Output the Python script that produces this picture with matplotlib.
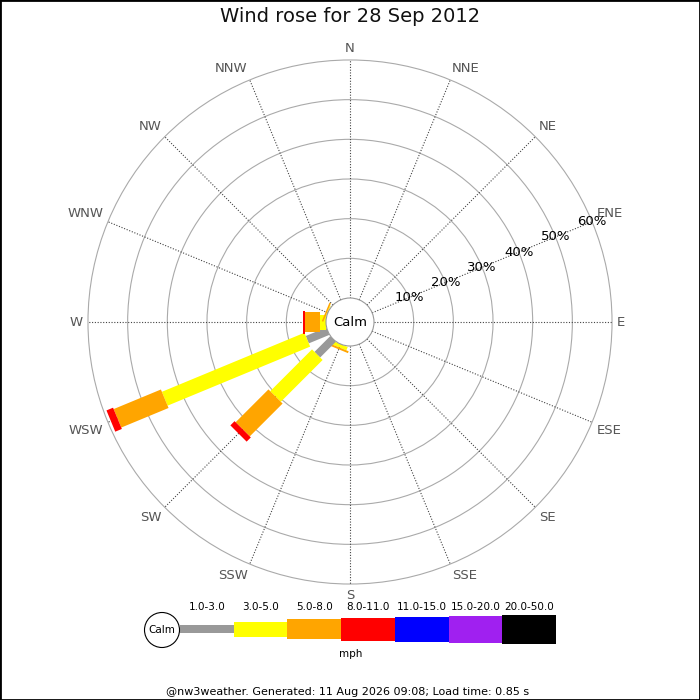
import numpy as np
import matplotlib
matplotlib.use('Agg')
import matplotlib.pyplot as plt
from matplotlib.patches import Polygon, Circle, Rectangle

# compass points, clockwise from north
directions = ['N', 'NNE', 'NE', 'ENE', 'E', 'ESE', 'SE', 'SSE',
              'S', 'SSW', 'SW', 'WSW', 'W', 'WNW', 'NW', 'NNW']
speed_bins = ['1.0-3.0', '3.0-5.0', '5.0-8.0', '8.0-11.0',
              '11.0-15.0', '15.0-20.0', '20.0-50.0']
bin_colors = ['#999999', '#ffff00', '#ffa500', '#ff0000',
              '#0000ff', '#a020f0', '#000000']
pct_ticks = [10, 20, 30, 40, 50, 60]

# percent of the day per direction, one value per speed bin
freq = {
    'SSW': [0.0, 0.9, 0.5, 0.0, 0.0, 0.0, 0.0],
    'SW':  [5.6, 14.9, 11.7, 1.5, 0.0, 0.0, 0.0],
    'WSW': [5.6, 38.9, 12.9, 1.8, 0.0, 0.0, 0.0],
    'W':   [0.0, 1.5, 3.9, 0.5, 0.0, 0.0, 0.0],
    'WNW': [0.0, 0.2, 0.4, 0.0, 0.0, 0.0, 0.0],
}

# layout (pixel frame, y down)
cx, cy = 350, 322
calm_r = 24
ring_step = 39.67  # px per 10 %
bar_w = [8, 15, 20, 23, 25, 27, 29]
outer_r = calm_r + ring_step * len(pct_ticks)


def rad(p):
    return calm_r + p * ring_step / 10.0


fig = plt.figure(figsize=(7, 7), dpi=100)
ax = fig.add_axes([0, 0, 1, 1])
ax.set_xlim(0, 700)
ax.set_ylim(700, 0)
ax.set_aspect('equal')
ax.set_xticks([])
ax.set_yticks([])
for s in ax.spines.values():
    s.set_linewidth(2)
    s.set_color('black')

# rings
for p in pct_ticks:
    ax.add_patch(Circle((cx, cy), rad(p), fill=False, ec='#aaaaaa', lw=0.8, zorder=1))

# spokes and compass labels
for i, d in enumerate(directions):
    phi = np.deg2rad(i * 22.5)
    ux, uy = np.sin(phi), -np.cos(phi)
    ax.plot([cx + ux * calm_r, cx + ux * outer_r], [cy + uy * calm_r, cy + uy * outer_r],
            color='#444444', lw=0.8, ls=(0, (1, 1.5)), zorder=2)
    ha = 'center' if abs(ux) < 1e-6 else ('left' if ux > 0 else 'right')
    va = 'center' if abs(uy) < 1e-6 else ('bottom' if uy < 0 else 'top')
    ax.text(cx + ux * (outer_r + 5), cy + uy * (outer_r + 5), d, ha=ha, va=va,
            fontsize=9.5, color='#555555', zorder=5)

# bars
for d, vals in freq.items():
    phi = np.deg2rad(directions.index(d) * 22.5)
    u = np.array([np.sin(phi), -np.cos(phi)])
    p = np.array([np.cos(phi), np.sin(phi)])
    c = np.array([cx, cy])
    acc = 0.0
    for k, v in enumerate(vals):
        if v <= 0:
            continue
        r0, r1 = rad(acc), rad(acc + v)
        hw = bar_w[k] / 2.0
        pts = [c + u * r0 + p * hw, c + u * r1 + p * hw,
               c + u * r1 - p * hw, c + u * r0 - p * hw]
        ax.add_patch(Polygon(pts, closed=True, fc=bin_colors[k], ec='none', zorder=3))
        acc += v

# percent labels along ENE
phi = np.deg2rad(67.5)
for t in pct_ticks:
    ax.text(cx + np.sin(phi) * rad(t), cy - np.cos(phi) * rad(t), f'{t}%',
            ha='center', va='center', fontsize=9.5, color='black', zorder=6)

# calm circle
ax.add_patch(Circle((cx, cy), calm_r, fc='white', ec='#999999', lw=0.8, zorder=4))
ax.text(cx, cy, 'Calm', ha='center', va='center', fontsize=9.5, zorder=5)

# title
ax.text(350, 17, 'Wind rose for 28 Sep 2012', ha='center', va='center',
        fontsize=14, color='#111111', zorder=6)

# legend
lx0, ly, seg = 180, 629, 53.7
ax.add_patch(Circle((162, 630), 17.5, fc='white', ec='black', lw=0.8, zorder=4))
ax.text(162, 630, 'Calm', ha='center', va='center', fontsize=7.5, zorder=5)
for k, lab in enumerate(speed_bins):
    ax.add_patch(Rectangle((lx0 + k * seg, ly - bar_w[k] / 2.0), seg, bar_w[k],
                           fc=bin_colors[k], ec='none', zorder=3))
    ax.text(lx0 + (k + 0.5) * seg, 607, lab, ha='center', va='center', fontsize=7.5)
ax.text(351, 654, 'mph', ha='center', va='center', fontsize=7.5)

ax.text(348, 692, '@nw3weather. Generated: 11 Aug 2026 09:08; Load time: 0.85 s',
        ha='center', va='center', fontsize=8)

fig.savefig('out.png', dpi=100)
